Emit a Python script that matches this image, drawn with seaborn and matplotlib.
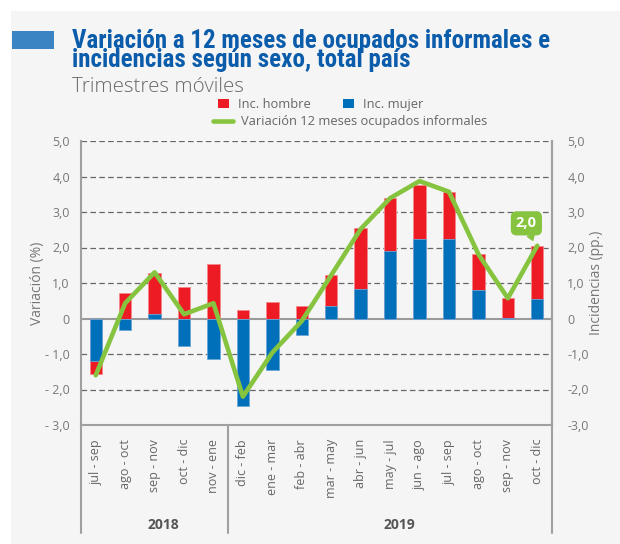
import numpy as np
import pandas as pd
import matplotlib
matplotlib.use("Agg")
import matplotlib.pyplot as plt
import matplotlib.transforms as mtransforms
import seaborn as sns
from matplotlib import font_manager
from matplotlib.patches import Patch, Rectangle
from matplotlib.lines import Line2D

# ---------------- data ----------------
periods = ["jul-sep 18", "ago-oct 18", "sep-nov 18", "oct-dic 18", "nov-ene 18",
           "dic-feb 19", "ene-mar 19", "feb-abr 19", "mar-may 19", "abr-jun 19",
           "may-jul 19", "jun-ago 19", "jul-sep 19", "ago-oct 19", "sep-nov 19",
           "oct-dic 19"]
tick_labels = ["jul - sep", "ago - oct", "sep - nov", "oct - dic", "nov - ene",
               "dic - feb", "ene - mar", "feb - abr", "mar - may", "abr - jun",
               "may - jul", "jun - ago", "jul - sep", "ago - oct", "sep - nov",
               "oct - dic"]
years = ["2018", "2019"]
year_counts = [5, 11]
inc_hombre = [-0.36, 0.73, 1.15, 0.89, 1.53, 0.24, 0.46, 0.36, 0.88, 1.72,
              1.49, 1.51, 1.32, 1.01, 0.57, 1.50]
inc_mujer = [-1.21, -0.33, 0.13, -0.77, -1.13, -2.46, -1.45, -0.46, 0.34, 0.82,
             1.90, 2.25, 2.24, 0.80, 0.02, 0.54]
variacion = [-1.60, 0.43, 1.30, 0.12, 0.43, -2.20, -0.96, -0.07, 1.22, 2.52,
             3.39, 3.87, 3.57, 1.81, 0.57, 2.05]
highlight_label = "2,0"
title_text = ("Variación a 12 meses de ocupados informales e\n"
              "incidencias según sexo, total país")
subtitle = "Trimestres móviles"
y_ticks = [-3, -2, -1, 0, 1, 2, 3, 4, 5]

RED = "#ed1c24"
BLUE = "#0070ba"
GREEN = "#86c440"
TITLE_BLUE = "#0b5cab"
GRAY = "#777777"

sns.set_theme(style="white")
avail = {f.name for f in font_manager.fontManager.ttflist}
title_family = next((f for f in ["Roboto Condensed", "Liberation Sans Narrow",
                                 "Open Sans Condensed", "DejaVu Sans Condensed"]
                     if f in avail), "Roboto")
plt.rcParams["font.family"] = ["Open Sans", "DejaVu Sans"]

fig = plt.figure(figsize=(6.2, 5.44), dpi=100, facecolor="white")
fig.patches.append(Rectangle((11 / 620, 0), 1, (544 - 11) / 544,
                             transform=fig.transFigure, facecolor="#f5f5f5",
                             edgecolor="none", zorder=-10))
fig.patches.append(Rectangle((12 / 620, 1 - 49 / 544), 42 / 620, 18 / 544,
                             transform=fig.transFigure, facecolor="#3a84c4",
                             edgecolor="none", zorder=1))

ax = fig.add_axes([81 / 620, 1 - 425 / 544, 471 / 620, 284 / 544])
ax.set_facecolor("none")

df = pd.DataFrame({"periodo": periods, "hombre": inc_hombre, "mujer": inc_mujer,
                   "variacion": variacion})
same_sign = np.sign(df["hombre"]) == np.sign(df["mujer"])
df["red_reach"] = np.where(same_sign, df["mujer"] + df["hombre"], df["hombre"])

# grid / zero line
for v in y_ticks:
    if v in (0, -3):
        continue
    ax.axhline(v, color="#666666", lw=0.9, ls=(0, (4.5, 2.6)), zorder=1)
ax.axhline(0, color="#9a9a9a", lw=1.5, zorder=2)

sns.barplot(data=df, x="periodo", y="red_reach", order=periods, color=RED,
            saturation=1, width=0.42, edgecolor="#f4878c", linewidth=0.6,
            ax=ax, zorder=3)
sns.barplot(data=df, x="periodo", y="mujer", order=periods, color=BLUE,
            saturation=1, width=0.42, edgecolor="#6aa6d6", linewidth=0.6,
            ax=ax, zorder=4)
sns.pointplot(data=df, x="periodo", y="variacion", order=periods, color=GREEN,
              markers="", errorbar=None, linewidth=3.3, ax=ax, zorder=5)

ax.set_xlim(-0.5, len(periods) - 0.5)
ax.set_ylim(-3, 5)
ax.set_yticks(y_ticks)
ax.set_yticklabels([("0" if v == 0 else ("- " if v < 0 else "") + f"{abs(v):.1f}".replace(".", ","))
                    for v in y_ticks])
ax.set_xticks(range(len(periods)))
ax.set_xticklabels(tick_labels, rotation=90, va="top", ha="center")
ax.tick_params(axis="x", length=0, pad=10, labelsize=9, labelcolor="#666666")
ax.tick_params(axis="y", length=0, pad=8, labelsize=9, labelcolor=GRAY)
ax.set_xlabel("")
ax.set_ylabel("Variación (%)", fontsize=10, color=GRAY)
ax.yaxis.set_label_coords(-(81 - 45) / 471, 0.5)

ax.spines["top"].set_visible(False)
for s in ["left", "right", "bottom"]:
    ax.spines[s].set_color("#a0a0a0")
    ax.spines[s].set_linewidth(1.5)

ax2 = ax.twinx()
ax2.set_ylim(-3, 5)
ax2.set_yticks(y_ticks)
ax2.set_yticklabels([("0" if v == 0 else f"{v:.1f}".replace(".", ",")) for v in y_ticks])
ax2.tick_params(axis="y", length=0, pad=11, labelsize=9, labelcolor=GRAY)
ax2.set_ylabel("Incidencias (pp.)", fontsize=10, color=GRAY)
ax2.yaxis.set_label_coords((589 - 81) / 471, 0.5)
for s in ["top", "left", "bottom"]:
    ax2.spines[s].set_visible(False)
ax2.spines["right"].set_color("#a0a0a0")
ax2.spines["right"].set_linewidth(1.5)

# group separators and year labels
trans = mtransforms.blended_transform_factory(ax.transData, ax.transAxes)
bounds = np.concatenate([[0], np.cumsum(year_counts)]) - 0.5
for b in bounds:
    ax.plot([b, b], [0, -0.38], transform=trans, clip_on=False,
            color="#a0a0a0", lw=1.5)
for i, yr in enumerate(years):
    c = (bounds[i] + bounds[i + 1]) / 2 + 0.3
    ax.text(c, -0.352, yr, transform=trans, ha="center", va="center",
            fontsize=10, fontweight="bold", color="#555555")

# highlighted value label
last = len(periods) - 1
ax.annotate(highlight_label, xy=(last - 0.15, variacion[-1] + 0.15),
            xytext=(last - 0.37, variacion[-1] + 0.63), textcoords="data",
            ha="center", va="center", fontsize=10.5, fontweight="bold",
            color="white", zorder=7,
            bbox=dict(boxstyle="round,pad=0.3,rounding_size=0.35", fc=GREEN,
                      ec=GREEN),
            arrowprops=dict(arrowstyle="wedge,tail_width=0.5,shrink_factor=0.5",
                            fc=GREEN, ec=GREEN, shrinkA=0, shrinkB=0))

# titles
fig.text(72 / 620, 1 - 66.7 / 544, title_text, ha="left", va="baseline",
         fontsize=18, fontweight="bold", color=TITLE_BLUE,
         family=[title_family, "DejaVu Sans"], linespacing=0.74)
fig.text(72 / 620, 1 - 91.5 / 544, subtitle, ha="left", va="baseline",
         fontsize=14.8, color="#6a6a6a", fontweight="light")

# legends
h1 = [Patch(facecolor=RED, edgecolor="none"), Patch(facecolor=BLUE, edgecolor="none")]
leg1 = fig.legend(h1, ["Inc. hombre", "Inc. mujer"], loc="center",
                  bbox_to_anchor=(321 / 620, 1 - 104.5 / 544), ncol=2, frameon=False,
                  fontsize=9.3, handlelength=0.8, handleheight=0.8,
                  handletextpad=0.75, columnspacing=2.5, borderpad=0)
leg2 = fig.legend([Line2D([0], [0], color=GREEN, lw=3.3)],
                  ["Variación 12 meses ocupados informales"], loc="center",
                  bbox_to_anchor=(350 / 620, 1 - 122 / 544), frameon=False,
                  fontsize=9.3, handlelength=1.6, handletextpad=0.6, borderpad=0)
for lg in (leg1, leg2):
    for t in lg.get_texts():
        t.set_color("#666666")

fig.savefig("out.png", dpi=100, facecolor="white")
